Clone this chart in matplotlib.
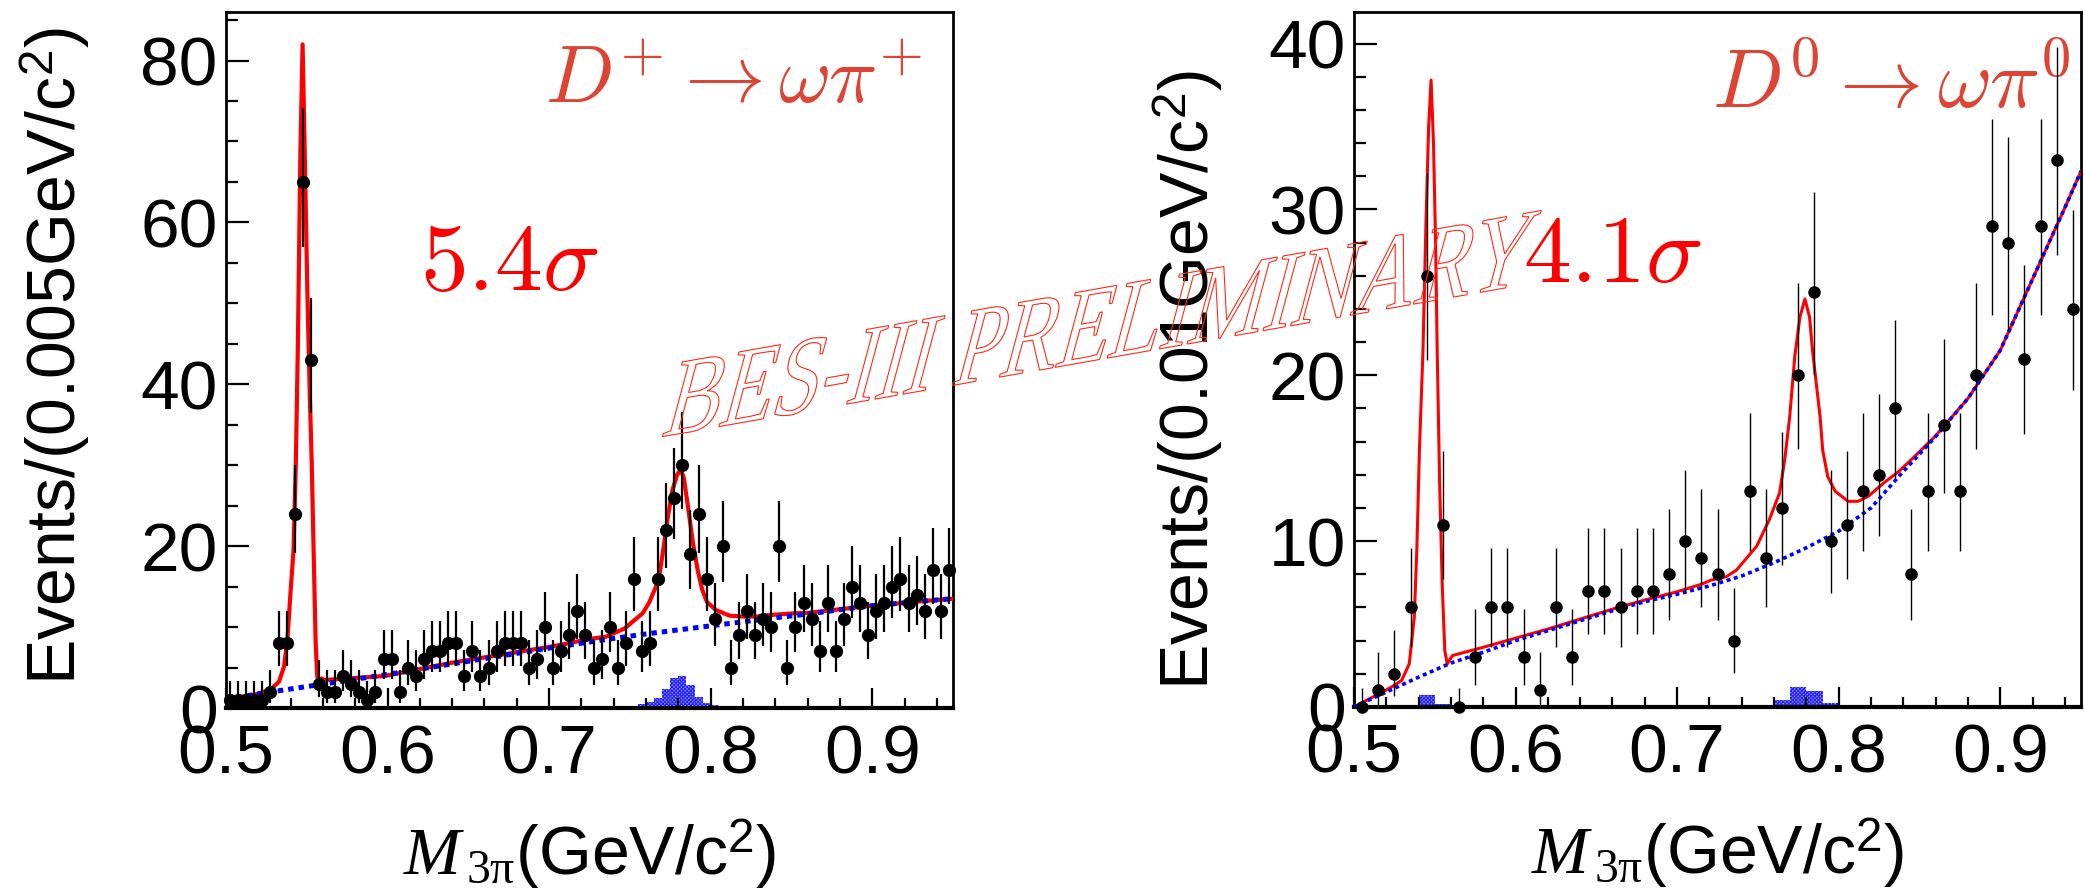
import numpy as np
import matplotlib
matplotlib.use("Agg")
import matplotlib.pyplot as plt
from matplotlib.textpath import TextPath
from matplotlib.patches import PathPatch
from matplotlib.font_manager import FontProperties
from matplotlib.transforms import Affine2D
from matplotlib.ticker import MultipleLocator

plt.rcParams['font.family'] = ['Liberation Sans', 'DejaVu Sans']
plt.rcParams['mathtext.fontset'] = 'custom'
plt.rcParams['mathtext.rm'] = 'Liberation Sans'
plt.rcParams['mathtext.it'] = 'Liberation Serif:italic'
plt.rcParams['mathtext.sf'] = 'Liberation Serif'
plt.rcParams['hatch.linewidth'] = 0.8

# ---- D+ -> omega pi+ (0.005 GeV bins) ----
dp_lo, dp_bin = 0.5, 0.005
dp_counts = [1, 1, 1, 1, 1, 2, 8, 8, 24, 65, 43, 3, 2, 2, 4, 3, 2, 1, 2, 6,
             6, 2, 5, 4, 6, 7, 7, 8, 8, 4, 7, 4, 5, 7, 8, 8, 8, 5, 6, 10,
             5, 7, 9, 12, 9, 5, 6, 10, 5, 8, 16, 7, 8, 16, 22, 26, 30, 19, 24, 16,
             11, 20, 5, 9, 12, 9, 11, 10, 20, 5, 10, 13, 11, 7, 13, 7, 11, 15, 13, 9,
             12, 13, 15, 16, 13, 14, 12, 17, 12, 17]
dp_bkg_x = [0.50, 0.52, 0.54, 0.56, 0.58, 0.60, 0.62, 0.64, 0.66, 0.68, 0.70, 0.72,
            0.74, 0.76, 0.78, 0.80, 0.82, 0.84, 0.86, 0.88, 0.90, 0.92, 0.94, 0.95]
dp_bkg_y = [1.05, 1.75, 2.35, 2.95, 3.55, 4.15, 4.8, 5.45, 6.1, 6.75, 7.4, 8.0,
            8.6, 9.15, 9.65, 10.15, 10.65, 11.15, 11.6, 12.15, 12.65, 13.0, 13.35, 13.5]
dp_fit_x = [0.500, 0.5194, 0.5277, 0.5328, 0.5359, 0.538, 0.5396, 0.5418, 0.5432, 0.5445,
            0.546, 0.5474, 0.5488, 0.5503, 0.5517, 0.5531, 0.5545, 0.5555, 0.5565, 0.5576,
            0.5592, 0.5607, 0.598, 0.64, 0.68, 0.70, 0.7123, 0.7237, 0.7351, 0.7465,
            0.7579, 0.7621, 0.7678, 0.7706, 0.7735, 0.7763, 0.7792, 0.7815, 0.7834, 0.7863,
            0.7891, 0.792, 0.7948, 0.7977, 0.8033, 0.8119, 0.8204, 0.8289, 0.8375, 0.8517,
            0.86, 0.88, 0.90, 0.92, 0.94, 0.95]
dp_fit_y = [1.05, 1.73, 2.3, 3.25, 5.1, 8.4, 13.3, 19.5, 30, 45,
            68, 82, 68, 52, 40, 30, 17, 8, 3.9, 3.05,
            3.66, 3.46, 3.95, 5.6, 6.9, 7.55, 8.0, 8.5, 8.8, 9.8,
            11.7, 13.1, 15.8, 19.5, 23.6, 26.9, 28.8, 29.5, 28.4, 24.4,
            20.3, 17.0, 14.6, 13.1, 12.1, 11.4, 11.3, 11.3, 11.5, 11.7,
            11.75, 12.2, 12.65, 13.0, 13.35, 13.5]
dp_hist_edges = [0.540, 0.545, 0.550, 0.555, 0.720, 0.725, 0.730, 0.735, 0.740, 0.745,
                 0.750, 0.755, 0.760, 0.765, 0.770, 0.775, 0.780, 0.785, 0.790, 0.795,
                 0.800, 0.805, 0.810, 0.815, 0.820, 0.825, 0.830]
dp_hist_vals = [0.12, 0.25, 0.12, 0.0, 0.12, 0.12, 0.12, 0.12, 0.12, 0.16,
                0.25, 0.45, 0.7, 1.2, 2.3, 3.7, 4.0, 2.8, 1.3, 0.6,
                0.33, 0.15, 0.12, 0.12, 0.12, 0.12]

# ---- D0 -> omega pi0 (0.01 GeV bins) ----
d0_lo, d0_bin = 0.5, 0.01
d0_counts = [0, 1, 2, 6, 26, 11, 0, 3, 6, 6, 3, 1, 6, 3, 7, 7, 6, 7, 7, 8,
             10, 9, 8, 4, 13, 9, 12, 20, 25, 10, 11, 13, 14, 18, 8, 13, 17, 13, 20, 29,
             28, 21, 29, 33, 24]
d0_bkg_x = [0.50, 0.52, 0.54, 0.56, 0.58, 0.60, 0.62, 0.64, 0.66, 0.68, 0.70, 0.72,
            0.74, 0.76, 0.78, 0.80, 0.82, 0.84, 0.86, 0.88, 0.90, 0.92, 0.94, 0.95]
d0_bkg_y = [0.0, 0.9, 1.8, 2.65, 3.3, 4.0, 4.6, 5.2, 5.8, 6.35, 6.8, 7.3,
            7.9, 8.7, 9.6, 10.6, 12.0, 14.2, 16.3, 18.6, 21.5, 25.8, 30.1, 32.3]
d0_fit_x = [0.500, 0.5232, 0.5295, 0.5342, 0.5373, 0.5389, 0.5405, 0.5427, 0.5445, 0.5462,
            0.5477, 0.5492, 0.5505, 0.5515, 0.553, 0.5546, 0.5562, 0.5577, 0.5609, 0.58,
            0.60, 0.62, 0.64, 0.66, 0.68, 0.70, 0.715, 0.721, 0.7304, 0.7367,
            0.7493, 0.7571, 0.7634, 0.7666, 0.7697, 0.7728, 0.776, 0.7791, 0.782, 0.7838,
            0.7885, 0.7901, 0.7932, 0.7979, 0.8058, 0.812, 0.8183, 0.8278, 0.8372, 0.847,
            0.86, 0.88, 0.90, 0.92, 0.94, 0.95]
d0_fit_y = [0.0, 1.2, 1.6, 2.6, 5.4, 9.5, 15.5, 21.5, 29, 35,
            37.8, 34, 28, 21.5, 13.5, 7.4, 3.4, 2.6, 3.1, 3.6,
            4.15, 4.7, 5.3, 5.9, 6.45, 6.95, 7.4, 7.65, 7.85, 8.25,
            9.7, 11.3, 12.9, 14.9, 17.5, 21.1, 23.5, 24.6, 23.5, 21.5,
            17.5, 15.5, 13.9, 13.0, 12.4, 12.4, 12.7, 13.5, 14.2, 15.1,
            16.35, 18.6, 21.5, 25.8, 30.1, 32.3]
d0_hist_edges = [0.53, 0.54, 0.55, 0.56, 0.73, 0.74, 0.75, 0.76, 0.77, 0.78,
                 0.79, 0.80, 0.81, 0.82]
d0_hist_vals = [0.06, 0.72, 0.18, 0.0, 0.06, 0.06, 0.14, 0.44, 1.18, 0.98,
                0.24, 0.06, 0.06]

W, H = 2085, 892
fig = plt.figure(figsize=(W / 100, H / 100), dpi=100)
ax1 = fig.add_axes([226 / W, 1 - 708 / H, 727 / W, 696 / H])
ax2 = fig.add_axes([1354 / W, 1 - 707 / H, 727 / W, 695 / H])


def poisson_err(n):
    n = np.asarray(n, dtype=float)
    up = np.where(n > 0, 1 + np.sqrt(n + 0.75), 1.148)
    dn = np.where(n > 0, np.sqrt(np.clip(n - 0.25, 0, None)), 0.0)
    return dn, up


def draw(ax, lo, binw, counts, bx, by, fx, fy, hedges, hvals, ymax, ymaj, ymin,
         ms, elw, fitlw, bkglw):
    counts = np.array(counts, dtype=float)
    centers = lo + binw * (np.arange(len(counts)) + 0.5)
    dn, up = poisson_err(counts)

    hedges = np.array(hedges)
    ax.bar(hedges[:-1], hvals, width=np.diff(hedges), align='edge', color='#9a9aff',
           edgecolor='#2020ff', hatch='x' * 9, linewidth=0, zorder=1)

    ax.plot(fx, fy, color='#ff0000', lw=fitlw, zorder=3)
    ax.plot(bx, by, color='#0000ff', lw=bkglw, dashes=(1.1, 1.0), zorder=4)

    ax.vlines(centers, counts - dn, counts + up, color='black', lw=elw, zorder=5)
    ax.plot(centers, counts, 'o', color='black', ms=ms, zorder=6, clip_on=False)

    ax.set_xlim(0.5, 0.95)
    ax.set_ylim(0, ymax)
    ax.xaxis.set_major_locator(MultipleLocator(0.1))
    ax.xaxis.set_minor_locator(MultipleLocator(0.02))
    ax.yaxis.set_major_locator(MultipleLocator(ymaj))
    ax.yaxis.set_minor_locator(MultipleLocator(ymin))
    ax.tick_params(which='both', direction='in', top=False, right=False,
                   labelsize=50, width=1.6)
    ax.tick_params(axis='y', which='major', length=16.5, pad=6)
    ax.tick_params(axis='y', which='minor', length=8.6)
    ax.tick_params(axis='x', which='major', length=14.4, pad=11)
    ax.tick_params(axis='x', which='minor', length=7.2)
    for s in ax.spines.values():
        s.set_linewidth(2)
    ax.spines['bottom'].set_linewidth(3)
    ax.set_xlabel(r"$\mathit{M}_{\,\mathsf{3\pi}}$(GeV/c$^{2}$)", fontsize=49, va='center')
    ax.xaxis.set_label_coords(0.5, -0.21)


draw(ax1, dp_lo, dp_bin, dp_counts, dp_bkg_x, dp_bkg_y, dp_fit_x, dp_fit_y,
     dp_hist_edges, dp_hist_vals, 86, 20, 5, 8.5, 1.6, 3.0, 3.6)
draw(ax2, d0_lo, d0_bin, d0_counts, d0_bkg_x, d0_bkg_y, d0_fit_x, d0_fit_y,
     d0_hist_edges, d0_hist_vals, 41.9, 10, 2, 8.0, 1.0, 2.2, 2.6)

ax1.set_ylabel("Events/(0.005GeV/c$^{2}$)", fontsize=49, va='center')
ax1.yaxis.set_label_coords(-0.235, 0.505)
ax2.set_ylabel("Events/(0.01GeV/c$^{2}$)", fontsize=49, va='center')
ax2.yaxis.set_label_coords(-0.228, 0.47)

ax1.text(0.931, 74.7, r"$D^{+}\rightarrow\omega\pi^{+}$", color='#dd4433', fontsize=58,
         ha='right', va='baseline', math_fontfamily='cm')
ax2.text(0.9438, 36.1, r"$D^{0}\rightarrow\omega\pi^{0}$", color='#dd4433', fontsize=60,
         ha='right', va='baseline', math_fontfamily='cm')
ax1.text(0.6201, 51.6, r"$5.4\sigma$", color='#ff0000', fontsize=69,
         ha='left', va='baseline', math_fontfamily='cm')
ax2.text(0.6046, 25.6, r"$4.1\sigma$", color='#ff0000', fontsize=69,
         ha='left', va='baseline', math_fontfamily='cm')

# hollow, slanted watermark
wm = TextPath((0, 0), "BES-III PRELIMINARY", size=1,
              prop=FontProperties(family='Liberation Serif'))
sx, sy = 86.0, 118.0
rot, tilt = np.radians(10), np.radians(15)
mtx = np.array([[sx * np.cos(rot), sy * np.sin(tilt), 660],
                [sx * np.sin(rot), sy * np.cos(tilt), H - 437],
                [0, 0, 1]])
fig.add_artist(PathPatch(wm, transform=Affine2D(mtx), facecolor='none',
                         edgecolor='#ff2a1a', lw=0.8, zorder=10))

fig.savefig("out.png", dpi=100)
